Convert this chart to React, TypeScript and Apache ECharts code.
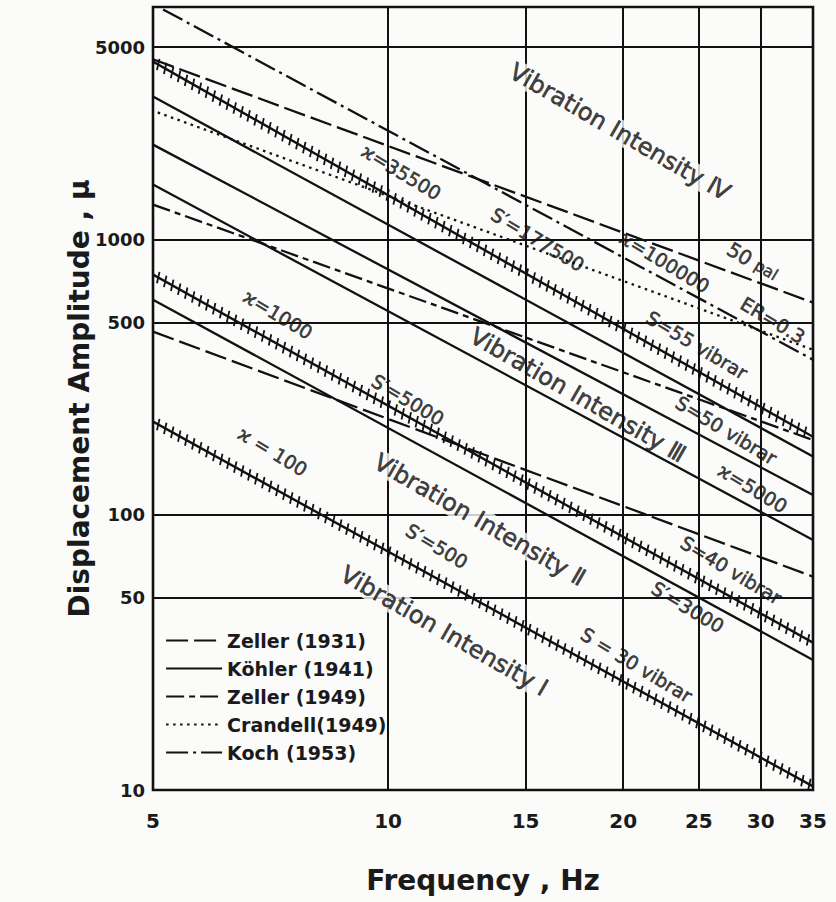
import React, { useEffect, useRef } from "react";
import * as echarts from "echarts";

// ---- axis ticks / grid ----
const freqLabels = [5, 10, 15, 20, 25, 30, 35];
const ampLabels = [10, 50, 100, 500, 1000, 5000];
const freqGrid = [10, 15, 20, 25, 30];
const ampGrid = [50, 100, 500, 1000, 5000];

// ---- criterion lines: [startFreq, startAmp, endFreq, endAmp] ----
const zeller1931 = [
  [5, 4520, 35, 590],
  [5, 463, 35, 59.6],
];
const kohler1941 = [
  [5, 3313, 35, 163],
  [5, 2213, 35, 118],
  [5, 1585, 35, 81],
  [5, 605, 35, 29.7],
];
const zeller1949 = [[5, 1340, 35, 187]];
const crandell1949 = [[5.07, 2897, 35, 398]];
const koch1953 = [[5.15, 6860, 35, 366]];
// hatched vibrar lines
const vibrarLines = [
  [5, 4435, 35, 192],
  [5, 746, 35, 34.3],
  [5, 218, 35, 10.3],
];

// ---- annotations ----
const noteTexts = [
  "Vibration Intensity Ⅳ",
  "ϰ=35500",
  "S′=177500",
  "ϰ=100000",
  "50 pal",
  "ER=0.3",
  "S=55 vibrar",
  "Vibration Intensity Ⅲ",
  "S=50 vibrar",
  "ϰ=5000",
  "ϰ=1000",
  "S′=5000",
  "ϰ = 100",
  "S′=500",
  "Vibration Intensity Ⅱ",
  "S=40 vibrar",
  "S′=3000",
  "Vibration Intensity Ⅰ",
  "S = 30 vibrar",
];
const noteFreqs = [19.8, 10.4, 15.55, 22.6, 29.3, 31.1, 24.85, 17.5, 27.1, 29.3, 7.23, 10.6, 7.12, 11.55, 13.1, 27.5, 24.2, 11.8, 20.8];
const noteAmps = [2460, 1760, 1000, 830, 830, 510, 414, 272, 203, 125, 535, 262, 170, 77, 95.8, 63.0, 46.2, 37.8, 28.5];

const legendNames = ["Zeller (1931)", "Köhler (1941)", "Zeller (1949)", "Crandell(1949)", "Koch (1953)"];

const INK = "#111111";
const BG = "#fbfbfa";
const FONT = "DejaVu Sans";

export default function App() {
  const ref = useRef<HTMLDivElement>(null);

  useEffect(() => {
    if (!ref.current) return;
    const chart = echarts.init(ref.current, undefined, { renderer: "svg" });

    const groups: [string, any, number[][]][] = [
      ["Zeller (1931)", [22, 6], zeller1931],
      ["Köhler (1941)", "solid", kohler1941],
      ["Zeller (1949)", [18, 5, 6, 5], zeller1949],
      ["Crandell(1949)", [2.5, 4.5], crandell1949],
      ["Koch (1953)", [22, 5, 3, 5], koch1953],
    ];

    const lineSeries: any[] = [];
    groups.forEach(([name, dash, lines]) => {
      lines.forEach((l) => {
        lineSeries.push({
          type: "line",
          name,
          data: [
            [l[0], l[1]],
            [l[2], l[3]],
          ],
          symbol: "none",
          silent: true,
          z: 3,
          color: INK,
          itemStyle: { color: INK },
          lineStyle: { color: INK, width: 2.3, type: dash },
        });
      });
    });

    const gridSeries = {
      type: "line",
      name: "grid",
      data: [],
      silent: true,
      z: 1,
      markLine: {
        silent: true,
        symbol: ["none", "none"],
        label: { show: false },
        lineStyle: { color: INK, width: 2, type: "solid" },
        data: [
          ...freqGrid.map((v) => ({ xAxis: v })),
          ...ampGrid.map((v) => ({ yAxis: v })),
        ],
      },
    };

    const hatchSeries = {
      type: "custom",
      name: "vibrar",
      data: vibrarLines,
      encode: { x: [0, 2], y: [1, 3] },
      silent: true,
      clip: true,
      z: 4,
      renderItem: (_params: any, api: any) => {
        const p1 = api.coord([api.value(0), api.value(1)]);
        const p2 = api.coord([api.value(2), api.value(3)]);
        const dx = p2[0] - p1[0];
        const dy = p2[1] - p1[1];
        const len = Math.hypot(dx, dy);
        const ux = dx / len;
        const uy = dy / len;
        let tx = -uy;
        let ty = ux + 1.3;
        const tl = Math.hypot(tx, ty);
        tx /= tl;
        ty /= tl;
        const half = 5.8;
        const step = 8;
        const children: any[] = [
          {
            type: "line",
            shape: { x1: p1[0], y1: p1[1], x2: p2[0], y2: p2[1] },
            style: { stroke: INK, lineWidth: 2.4 },
          },
        ];
        for (let s = 6; s < len - 2; s += step) {
          const cx = p1[0] + ux * s;
          const cy = p1[1] + uy * s;
          children.push({
            type: "line",
            shape: { x1: cx - tx * half, y1: cy - ty * half, x2: cx + tx * half, y2: cy + ty * half },
            style: { stroke: INK, lineWidth: 1.8 },
          });
        }
        return { type: "group", children };
      },
    };

    const noteSeries = {
      type: "scatter",
      name: "notes",
      silent: true,
      z: 6,
      symbol: "circle",
      symbolSize: 1,
      itemStyle: { color: "rgba(0,0,0,0)" },
      label: {
        show: true,
        position: "inside",
        formatter: "{b}",
        rotate: -30,
        color: INK,
        fontFamily: FONT,
        fontSize: 19,
        textBorderColor: INK,
        textBorderWidth: 0.6,
      },
      data: noteTexts.map((t, i) => {
        const big = t.startsWith("Vibration");
        const item: any = {
          name: t,
          value: [noteFreqs[i], noteAmps[i]],
          label: { fontSize: big ? 24 : 19, rotate: big ? -30 : -31 },
        };
        if (big && !t.endsWith("Ⅲ")) {
          item.label.backgroundColor = BG;
          item.label.padding = [0, 1];
        }
        if (t === "50 pal") {
          item.label.formatter = "{a|50} {b|pal}";
          item.label.rich = {
            a: { fontSize: 20, color: INK, fontFamily: FONT, textBorderColor: INK, textBorderWidth: 0.6 },
            b: { fontSize: 16, color: INK, fontFamily: FONT, textBorderColor: INK, textBorderWidth: 0.5 },
          };
        }
        return item;
      }),
    };

    chart.setOption({
      animation: false,
      backgroundColor: BG,
      grid: {
        left: 153,
        right: 23,
        top: 7,
        bottom: 112,
        show: true,
        borderColor: INK,
        borderWidth: 2.6,
        backgroundColor: "transparent",
      },
      legend: {
        data: legendNames,
        orient: "vertical",
        left: 160,
        top: 626,
        itemWidth: 56,
        itemHeight: 14,
        itemGap: 9,
        itemStyle: { opacity: 0 },
        lineStyle: { color: INK, width: 2.2 },
        textStyle: { fontFamily: FONT, fontSize: 19, color: "#1a1a1a", fontWeight: "bold" },
        selectedMode: false,
      },
      xAxis: {
        type: "log",
        logBase: 10,
        min: 5,
        max: 35,
        name: "Frequency , Hz",
        nameLocation: "middle",
        nameGap: 76,
        nameMoveOverlap: false,
        nameTextStyle: { fontFamily: FONT, fontSize: 28, color: "#1a1a1a", fontWeight: "bold" },
        axisLine: { show: false },
        axisTick: { show: false, customValues: freqLabels },
        splitLine: { show: false },
        minorSplitLine: { show: false },
        axisLabel: {
          customValues: freqLabels,
          formatter: (v: number) => String(Math.round(v)),
          margin: 21,
          fontFamily: FONT,
          fontSize: 20,
          fontWeight: "bold",
          color: "#1a1a1a",
        },
      },
      yAxis: {
        type: "log",
        logBase: 10,
        min: 10,
        max: 7000,
        name: "Displacement Amplitude , μ",
        nameLocation: "middle",
        nameGap: 60,
        nameMoveOverlap: false,
        nameTextStyle: { fontFamily: FONT, fontSize: 28, color: "#1a1a1a", fontWeight: "bold" },
        axisLine: { show: false },
        axisTick: { show: false, customValues: ampLabels },
        splitLine: { show: false },
        minorSplitLine: { show: false },
        axisLabel: {
          customValues: ampLabels,
          formatter: (v: number) => String(Math.round(v)),
          margin: 8,
          fontFamily: FONT,
          fontSize: 18,
          fontWeight: "bold",
          color: "#1a1a1a",
        },
      },
      series: [gridSeries, ...lineSeries, hatchSeries, noteSeries],
    });

    return () => chart.dispose();
  }, []);

  return (
    <div
      ref={ref}
      style={{ position: "fixed", left: 0, top: 0, width: 836, height: 902 }}
    />
  );
}
